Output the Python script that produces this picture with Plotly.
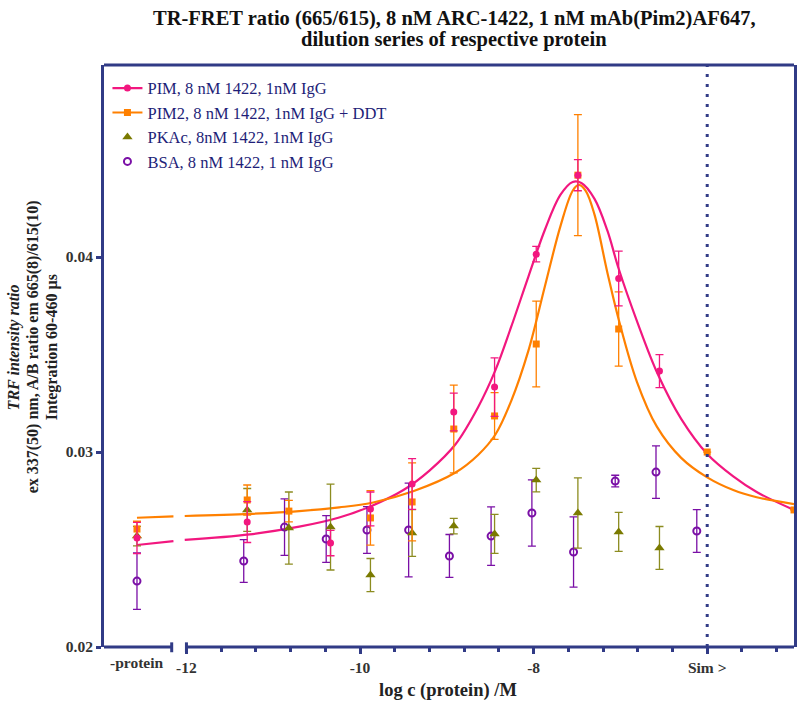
import plotly.graph_objects as go

# ---------------- data ----------------
x_cols = [-12.57, -11.30, -10.82, -10.34, -9.88, -9.40, -8.92, -8.45, -7.97, -7.49, -7.02, -6.55]

pim_y   = [0.02559, 0.02641, None, 0.02533, 0.02708, 0.02836, 0.03205, 0.03333, 0.04015, 0.0442, 0.0389, 0.03415]
pim_err = [0.0008, 0.00105, None, 0.00065, 0.00087, 0.0013, 0.00097, 0.0015, 0.0004, 0.0008, 0.0014, 0.00085]

pim2_x   = [-12.57, -11.30, -10.82, -10.34, -9.88, -9.40, -8.92, -8.45, -7.97, -7.49, -7.02, -6.00, -5.00]
pim2_y   = [0.02605, 0.02754, 0.02697, None, 0.02662, 0.02744, 0.03118, 0.03185, 0.03554, 0.0442, 0.03631, 0.0300, 0.02703]
pim2_err = [0.0004, 0.00077, 0.00055, None, 0.0014, 0.002, 0.00225, 0.0012, 0.0022, 0.0031, 0.0019, 0, 0]

pka_y   = [0.02569, 0.02703, 0.0261, 0.02615, 0.02369, 0.02585, 0.0262, 0.0258, 0.02856, 0.02687, 0.0259, 0.02508]
pka_err = [0.0005, 0.0011, 0.00185, 0.0022, 0.00085, 0.0012, 0.0004, 0.001, 0.0006, 0.0018, 0.001, 0.0011]

bsa_x   = [-12.57, -11.34, -10.87, -10.39, -9.92, -9.44, -8.97, -8.49, -8.02, -7.54, -7.06, -6.59, -6.12]
bsa_y   = [0.02338, 0.02441, 0.02615, 0.02554, 0.0260, 0.0260, 0.02467, 0.02569, 0.02687, 0.02487, 0.02851, 0.02897, 0.02595]
bsa_err = [0.00145, 0.0011, 0.00145, 0.0012, 0.0012, 0.0024, 0.0011, 0.0015, 0.0017, 0.0018, 0.0003, 0.00135, 0.0011]

# fitted curves (None = axis break)
pim_fit_x = [-12.57, -12.15, None, -12.02, -11.27, -10.70, -10.24, -9.86, -9.50, -9.20, -8.90, -8.64, -8.44, -8.26,
             -8.06, -7.87, -7.69, -7.55, -7.45, -7.30, -7.15, -7.02, -6.80, -6.57, -6.30, -6.00, -5.70, -5.43, -5.00]
pim_fit_y = [0.02523, 0.02543, None, 0.02549, 0.02578, 0.02617, 0.02664, 0.02725, 0.02805, 0.02905, 0.03040, 0.03230, 0.03420, 0.03640,
             0.03900, 0.04140, 0.04320, 0.04385, 0.04380, 0.04300, 0.04135, 0.03940, 0.03660, 0.03400, 0.03170, 0.02990, 0.02875, 0.02795, 0.02703]

pim2_fit_x = [-12.57, -12.15, None, -12.02, -11.27, -10.70, -10.24, -9.86, -9.38, -8.90, -8.64, -8.44, -8.26, -8.06,
              -7.87, -7.69, -7.55, -7.48, -7.40, -7.30, -7.15, -7.02, -6.81, -6.58, -6.30, -6.00, -5.70, -5.43, -5.00]
pim2_fit_y = [0.02663, 0.02670, None, 0.02672, 0.02683, 0.02697, 0.02716, 0.02740, 0.02800, 0.02895, 0.02985, 0.03090, 0.03260, 0.03520,
              0.03850, 0.04160, 0.04340, 0.04370, 0.04340, 0.04220, 0.03920, 0.03680, 0.03360, 0.03130, 0.02970, 0.02870, 0.02805, 0.02768, 0.02733]

names = ["PIM, 8 nM 1422, 1nM IgG", "PIM2, 8 nM 1422, 1nM IgG + DDT",
         "PKAc, 8nM 1422, 1nM IgG", "BSA, 8 nM 1422, 1 nM IgG"]

x_tickvals = [-12, -10, -8, -6]
x_ticktext = ["-12", "-10", "-8", "Sim >"]
x_minor = [-11.6, -11.2, -10.8, -10.4, -9.6, -9.2, -8.8, -8.4, -7.6, -7.2, -6.8, -6.4, -5.6, -5.2]
y_tickvals = [0.02, 0.03, 0.04]
y_ticktext = ["0.02", "0.03", "0.04"]

title_lines = ["TR-FRET ratio (665/615), 8 nM ARC-1422, 1 nM mAb(Pim2)AF647,",
               "dilution series of respective protein"]
ytitle_lines = ["<i>TRF intensity ratio</i>",
                "ex 337(50) nm, A/B ratio em 665(8)/615(10)",
                "Integration 60-460 µs"]

# ---------------- styling ----------------
PINK = "#F2177F"
ORANGE = "#FF8000"
OLIVE = "#7A7A00"
PURPLE = "#7A0FA6"
NAVY = "#313B86"
FONT = "Liberation Serif"

X_RANGE = [-12.95, -5.0]
Y_RANGE = [0.02, 0.04985]
ML, MR, MT, MB = 104, 3, 65, 54
PW, PH = 800 - ML - MR, 701 - MT - MB


def px_x(p):
    return (p - ML) / PW


def px_y(p):
    return (701 - MB - p) / PH


fig = go.Figure()

# fitted curves
fig.add_trace(go.Scatter(x=pim_fit_x, y=pim_fit_y, mode="lines", line=dict(color=PINK, width=2.2, shape="spline", smoothing=1.0),
                         showlegend=False, connectgaps=False, hoverinfo="skip"))
fig.add_trace(go.Scatter(x=pim2_fit_x, y=pim2_fit_y, mode="lines", line=dict(color=ORANGE, width=2.2, shape="spline", smoothing=1.0),
                         showlegend=False, connectgaps=False, hoverinfo="skip"))

# data points
fig.add_trace(go.Scatter(x=bsa_x, y=bsa_y, mode="markers",
                         marker=dict(symbol="circle-open", size=7, color=PURPLE, line=dict(width=2, color=PURPLE)),
                         error_y=dict(type="data", array=bsa_err, color=PURPLE, thickness=1.3, width=4),
                         showlegend=False))
fig.add_trace(go.Scatter(x=x_cols, y=pka_y, mode="markers",
                         marker=dict(symbol="triangle-up", size=9, color=OLIVE),
                         error_y=dict(type="data", array=pka_err, color="#8C8C20", thickness=1.3, width=4),
                         showlegend=False))
fig.add_trace(go.Scatter(x=pim2_x, y=pim2_y, mode="markers",
                         marker=dict(symbol="square", size=7, color=ORANGE),
                         error_y=dict(type="data", array=pim2_err, color=ORANGE, thickness=1.3, width=4),
                         showlegend=False))
fig.add_trace(go.Scatter(x=x_cols, y=pim_y, mode="markers",
                         marker=dict(symbol="circle", size=7, color=PINK),
                         error_y=dict(type="data", array=pim_err, color=PINK, thickness=1.3, width=4),
                         showlegend=False))

# legend entries
fig.add_trace(go.Scatter(x=[None], y=[None], mode="lines+markers", name=names[0],
                         line=dict(color=PINK, width=2.2), marker=dict(symbol="circle", size=7, color=PINK)))
fig.add_trace(go.Scatter(x=[None], y=[None], mode="lines+markers", name=names[1],
                         line=dict(color=ORANGE, width=2.2), marker=dict(symbol="square", size=7, color=ORANGE)))
fig.add_trace(go.Scatter(x=[None], y=[None], mode="markers", name=names[2],
                         marker=dict(symbol="triangle-up", size=9, color=OLIVE)))
fig.add_trace(go.Scatter(x=[None], y=[None], mode="markers", name=names[3],
                         marker=dict(symbol="circle-open", size=7, color=PURPLE, line=dict(width=2, color=PURPLE))))

shapes = [
    # broken x axis
    dict(type="line", xref="x", yref="paper", x0=X_RANGE[0], x1=-12.17, y0=0, y1=0, line=dict(color=NAVY, width=3)),
    dict(type="line", xref="x", yref="paper", x0=-12.0, x1=X_RANGE[1], y0=0, y1=0, line=dict(color=NAVY, width=3)),
    dict(type="line", xref="x", yref="paper", x0=-12.17, x1=-12.17, y0=0.008, y1=-0.009, line=dict(color=NAVY, width=3)),
    dict(type="line", xref="x", yref="paper", x0=-12.0, x1=-12.0, y0=0.008, y1=-0.009, line=dict(color=NAVY, width=3)),
    # top frame
    dict(type="line", xref="paper", yref="paper", x0=0, x1=1, y0=1, y1=1, line=dict(color=NAVY, width=3)),
    # "Sim" dotted line
    dict(type="line", xref="x", yref="paper", x0=-6.0, x1=-6.0, y0=0, y1=1, line=dict(color=NAVY, width=3, dash="3px,7px")),
]

annotations = []
for txt, py in zip(title_lines, [18, 40]):
    annotations.append(dict(text="<b>%s</b>" % txt, xref="paper", yref="paper", x=px_x(456), y=px_y(py),
                            showarrow=False, xanchor="center", yanchor="middle",
                            font=dict(family=FONT, size=20.5, color="#111111")))
for txt, px in zip(ytitle_lines, [14, 33, 52]):
    annotations.append(dict(text="<b>%s</b>" % txt, xref="paper", yref="paper", x=px_x(px), y=px_y(347),
                            textangle=-90, showarrow=False, xanchor="center", yanchor="middle",
                            font=dict(family=FONT, size=16, color="#222222")))
annotations.append(dict(text="<b>log c (protein) /M</b>", xref="paper", yref="paper", x=px_x(449), y=px_y(690),
                        showarrow=False, xanchor="center", yanchor="middle",
                        font=dict(family=FONT, size=18.5, color="#222222")))
annotations.append(dict(text="<b>-protein</b>", xref="x", yref="paper", x=-12.57, y=px_y(662), showarrow=False,
                        xanchor="center", yanchor="middle", font=dict(family=FONT, size=15.5, color="#333333")))

fig.update_layout(
    width=800, height=701,
    margin=dict(l=ML, r=MR, t=MT, b=MB),
    paper_bgcolor="white", plot_bgcolor="white",
    font=dict(family=FONT),
    showlegend=True,
    legend=dict(x=0.005, y=0.99, xanchor="left", yanchor="top", bgcolor="rgba(0,0,0,0)",
                font=dict(family=FONT, size=16.5, color="#1E1E78"), itemwidth=30, tracegroupgap=0),
    xaxis=dict(range=X_RANGE, showgrid=False, zeroline=False, showline=False,
               tickmode="array", tickvals=x_tickvals, ticktext=["<b>%s</b>" % t for t in x_ticktext],
               ticks="outside", ticklen=6, tickwidth=2.5, tickcolor=NAVY,
               tickfont=dict(family=FONT, size=15.5, color="#333333"),
               minor=dict(tickmode="array", tickvals=x_minor, ticks="outside", ticklen=4, tickwidth=2.5,
                          tickcolor=NAVY, showgrid=False)),
    yaxis=dict(range=Y_RANGE, showgrid=False, zeroline=False, showline=True, linecolor=NAVY, linewidth=3, mirror=True,
               tickmode="array", tickvals=y_tickvals, ticktext=["<b>%s</b>" % t for t in y_ticktext],
               ticks="outside", ticklen=5, tickwidth=2.5, tickcolor=NAVY,
               tickfont=dict(family=FONT, size=15.5, color="#333333")),
    shapes=shapes, annotations=annotations,
)

fig.write_html("out.html")
